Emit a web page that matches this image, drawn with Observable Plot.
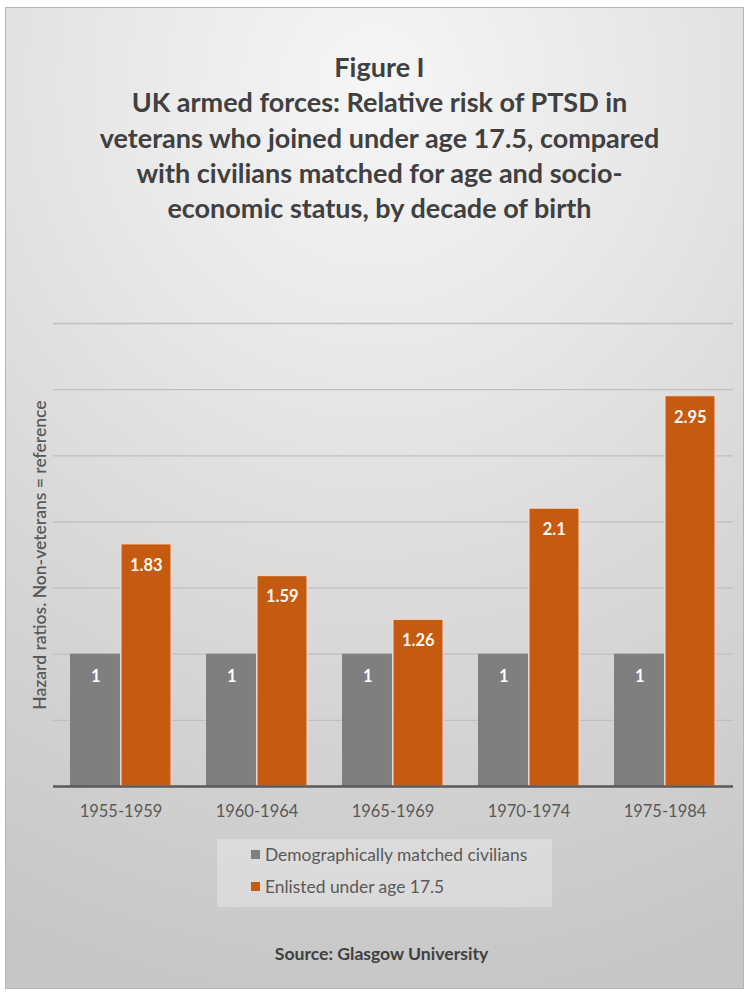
<!DOCTYPE html>
<html>
<head>
<meta charset="utf-8">
<script src="https://cdn.jsdelivr.net/npm/d3@7"></script>
<script src="https://cdn.jsdelivr.net/npm/@observablehq/plot@0.6"></script>
<style>
  html, body { margin: 0; padding: 0; width: 747px; height: 992px; overflow: hidden; background: #fff; }
  body { position: relative; font-family: Lato, "Open Sans", sans-serif; }
  #frame {
    position: absolute; left: 5px; top: 7px; width: 739px; height: 982px;
    border: 1.5px solid #b4b4b4; box-sizing: border-box;
    background: radial-gradient(ellipse 120% 95% at 50% 8%, #f6f6f6 0%, #e8e8e8 30%, #d8d8d8 60%, #c6c6c6 100%);
  }
  #title {
    position: absolute; left: 6px; width: 747px; top: 49px; text-align: center;
    font-weight: bold; font-size: 27px; line-height: 35.3px; color: #404040;
  }
  #chart { position: absolute; left: 0; top: 290px; }
  #legend {
    position: absolute; left: 217px; top: 839px; width: 335px; height: 68px;
    background: rgba(255,255,255,0.28);
    font-size: 17.4px; color: #595959;
  }
  .li { position: absolute; left: 34px; display: flex; align-items: center; white-space: nowrap; }
  .sw { width: 9px; height: 9px; margin-right: 5px; }
  #source {
    position: absolute; left: 8px; width: 747px; top: 943px; text-align: center;
    font-weight: bold; font-size: 17.6px; color: #404040;
  }
</style>
</head>
<body>
<div id="frame"></div>
<div id="title"></div>
<div id="chart"></div>
<div id="legend"></div>
<div id="source"></div>
<script>
// ---- data ----
const periods = ["1955-1959", "1960-1964", "1965-1969", "1970-1974", "1975-1984"];
const civilians = [1, 1, 1, 1, 1];
const enlisted = [1.83, 1.59, 1.26, 2.1, 2.95];
const seriesNames = ["Demographically matched civilians", "Enlisted under age 17.5"];
const seriesColors = ["#7f7f7f", "#c55a11"];
const gridTicks = [0.5, 1, 1.5, 2, 2.5, 3, 3.5];
const titleLines = [
  "Figure I",
  "UK armed forces: Relative risk of PTSD in",
  "veterans who joined under age 17.5, compared",
  "with civilians matched for age and socio-",
  "economic status, by decade of birth"
];
const yLabel = "Hazard ratios. Non-veterans = reference";
const sourceText = "Source: Glasgow University";

// ---- texts ----
document.getElementById("title").innerHTML = titleLines.join("<br>");
document.getElementById("source").textContent = sourceText;
const legend = document.getElementById("legend");
seriesNames.forEach((name, i) => {
  const d = document.createElement("div");
  d.className = "li";
  d.style.top = (i === 0 ? 5 : 37) + "px";
  d.innerHTML = `<span class="sw" style="background:${seriesColors[i]}"></span><span>${name}</span>`;
  legend.appendChild(d);
});

// ---- chart ----
const W = 747, H = 540, mL = 53, mR = 14, mT = 33, mB = 44;
const padIn = 0.257, padOut = padIn / 2;
const band = d3.scaleBand().domain(periods).range([mL, W - mR]).paddingInner(padIn).paddingOuter(padOut);
const bw = band.bandwidth();
const half = bw / 2;

const civData = periods.map((p, i) => ({period: p, value: civilians[i]}));
const enlData = periods.map((p, i) => ({period: p, value: enlisted[i]}));

const chart = Plot.plot({
  width: W, height: H,
  marginLeft: mL, marginRight: mR, marginTop: mT, marginBottom: mB,
  style: {background: "transparent", fontFamily: "Lato, 'Open Sans', sans-serif"},
  x: {type: "band", domain: periods, paddingInner: padIn, paddingOuter: padOut, label: null},
  y: {domain: [0, 3.5], axis: null},
  marks: [
    Plot.ruleY(gridTicks, {stroke: "#bfbfbf", strokeWidth: 1.3}),
    Plot.barY(civData, {x: "period", y: "value", fill: seriesColors[0], insetRight: half + 0.5}),
    Plot.barY(enlData, {x: "period", y: "value", fill: seriesColors[1], insetLeft: half + 0.5, stroke: "#f8dcc8", strokeWidth: 1}),
    Plot.ruleY([0], {stroke: "#595959", strokeWidth: 2.5}),
    Plot.text(civData, {x: "period", y: "value", text: d => String(d.value), dx: -bw / 4, dy: 23, fill: "white", fontWeight: "bold", fontSize: 16.5}),
    Plot.text(enlData, {x: "period", y: "value", text: d => String(d.value), dx: bw / 4, dy: 21, fill: "#fff8f2", fontWeight: "bold", fontSize: 16.5}),
    Plot.text([yLabel], {frameAnchor: "left", textAnchor: "middle", rotate: -90, dx: -13, fill: "#595959", fontSize: 17.5, fontWeight: 600}),
    Plot.axisX({tickSize: 0, tickPadding: 19, fontSize: 16.5, color: "#595959", label: null})
  ]
});
document.getElementById("chart").appendChild(chart);
</script>
</body>
</html>
